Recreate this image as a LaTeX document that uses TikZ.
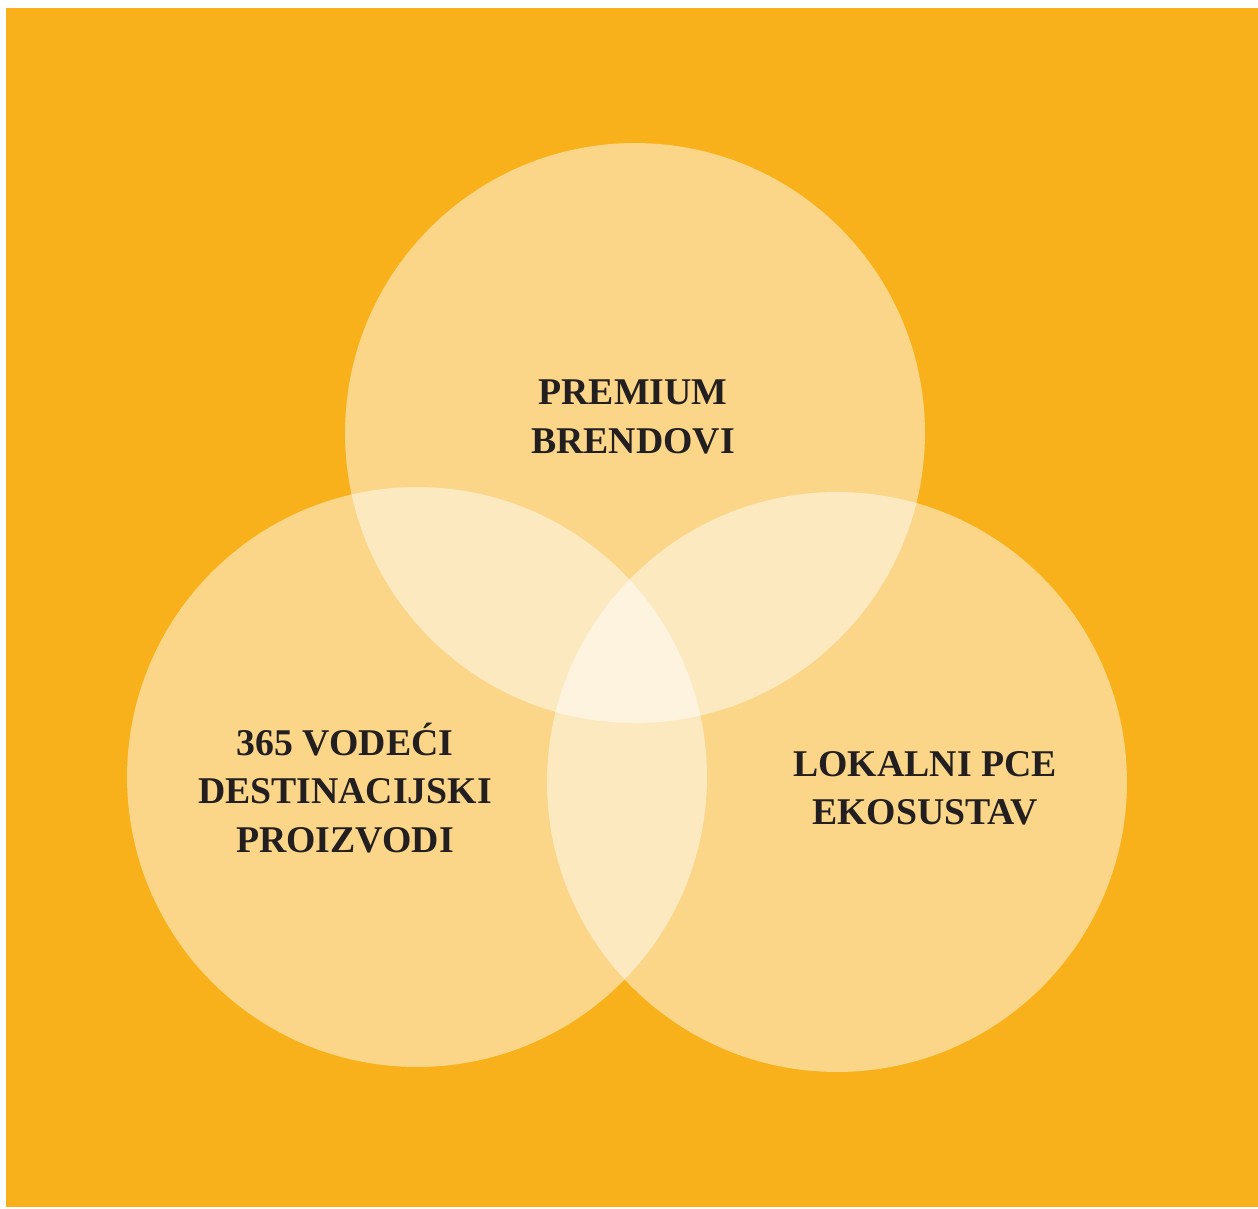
\documentclass[tikz,border=0pt]{standalone}
\usepackage{fontspec}
\setmainfont{Liberation Serif}
\usepackage{tikz}
\usetikzlibrary{positioning}

\definecolor{bgorange}{HTML}{F9B11B}
\definecolor{labelink}{HTML}{231F20}

\begin{document}
\begin{tikzpicture}[
  x=0.02cm, y=-0.02cm,
  ring/.style={circle,fill=white,fill opacity=0.48,minimum size=11.6cm,inner sep=0pt},
  lbl/.style={align=center,text=labelink,font=\bfseries\fontsize{21.5}{27.5}\selectfont}
]
\useasboundingbox (0,0) rectangle (1258,1209);
\fill[bgorange] (6,8) rectangle (1258,1207);

\node[ring] (top) at (635,433) {};
\node[ring] (left) at (417,777) {};
\node[ring] (right) at (837,782) {};

\node[lbl] (premium) at (633,417) {PREMIUM\\BRENDOVI};
\node[lbl] (vodeci) at (345,788) {365 VODEĆI\\DESTINACIJSKI\\PROIZVODI};
\node[lbl] (lokalni) at (925,788) {LOKALNI PCE\\EKOSUSTAV};
\end{tikzpicture}
\end{document}
